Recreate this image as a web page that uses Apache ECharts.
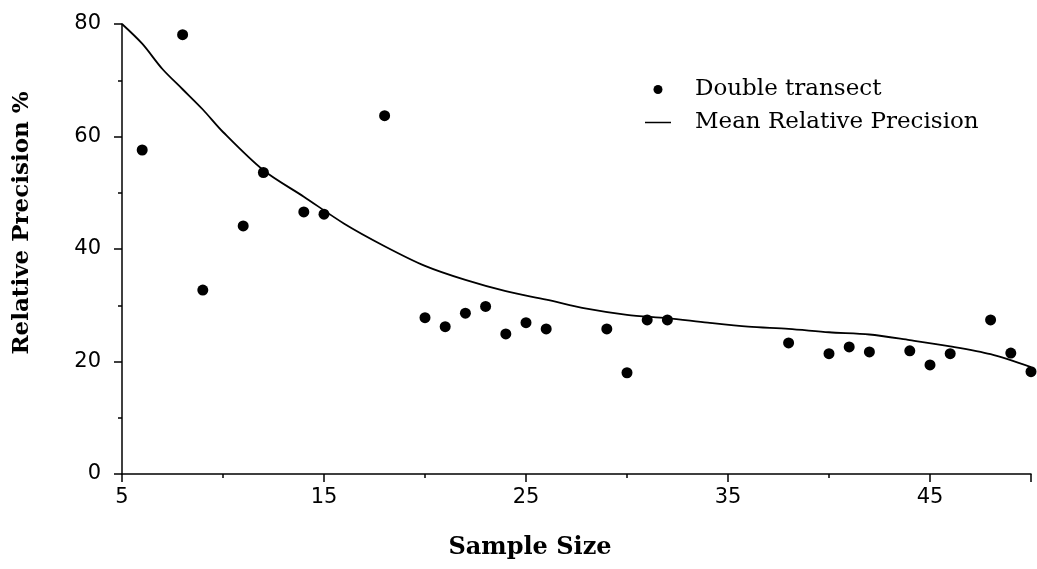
<!DOCTYPE html>
<html>
<head>
<meta charset="utf-8">
<script src="https://cdn.jsdelivr.net/npm/echarts@6/dist/echarts.min.js"></script>
<style>
html,body{margin:0;padding:0;background:#fff;}
#chart{width:1037px;height:569px;}
</style>
</head>
<body>
<div id="chart"></div>
<script>
// Scatter: Double transect (sample size, relative precision %)
var pointX = [6, 8, 9, 11, 12, 14, 15, 18, 20, 21, 22, 23, 24, 25, 26, 29, 30, 31, 32, 38, 40, 41, 42, 44, 45, 46, 48, 49, 50];
var pointY = [57.6, 78.1, 32.7, 44.1, 53.6, 46.6, 46.2, 63.7, 27.8, 26.2, 28.6, 29.8, 24.9, 26.9, 25.8, 25.8, 18.0, 27.4, 27.4, 23.3, 21.4, 22.6, 21.7, 21.9, 19.4, 21.4, 27.4, 21.5, 18.2];
// Line: Mean Relative Precision
var lineX = [5, 6, 7, 8, 9, 10, 12, 14, 16, 18, 20, 22, 24, 26, 28, 30, 32, 34, 36, 38, 40, 42, 44, 46, 48, 50];
var lineY = [80, 76.5, 72, 68.4, 64.8, 60.8, 54.0, 49.3, 44.5, 40.5, 37.0, 34.5, 32.5, 31.0, 29.4, 28.3, 27.7, 26.9, 26.2, 25.8, 25.2, 24.8, 23.8, 22.7, 21.3, 19.0];
var xTickLabels = ['5', '15', '25', '35', '45'];
var yTickLabels = ['0', '20', '40', '60', '80'];

var scatterData = pointX.map(function (x, i) { return [x, pointY[i]]; });
var lineData = lineX.map(function (x, i) { return [x, lineY[i]]; });

var chart = echarts.init(document.getElementById('chart'), null, {renderer: 'canvas'});
chart.setOption({
  animation: false,
  backgroundColor: '#ffffff',
  grid: {left: 122, right: 6, top: 24, bottom: 95, containLabel: false},
  legend: {
    orient: 'vertical',
    left: 640,
    top: 73,
    itemGap: 10,
    itemWidth: 26,
    itemHeight: 9,
    symbolKeepAspect: true,
    textStyle: {fontFamily: 'DejaVu Serif', fontSize: 23, color: '#000', padding: [0, 0, 0, 19]},
    data: [
      {name: 'Double transect', icon: 'circle'},
      {name: 'Mean Relative Precision', icon: 'path://M0,0 H26 V1.5 H0 Z'}
    ]
  },
  xAxis: {
    type: 'value',
    min: 5,
    max: 50,
    interval: 10,
    axisLine: {show: true, lineStyle: {color: '#000', width: 1.5}},
    axisTick: {show: true, inside: false, length: 8, lineStyle: {color: '#000', width: 1.5}},
    minorTick: {show: true, splitNumber: 2, length: 4, lineStyle: {color: '#000', width: 1.5}},
    splitLine: {show: false},
    axisLabel: {
      margin: 13,
      fontFamily: 'DejaVu Sans',
      fontSize: 21,
      color: '#000',
      formatter: function (v) { var i = xTickLabels.indexOf(String(v)); return i >= 0 ? xTickLabels[i] : ''; }
    }
  },
  yAxis: {
    type: 'value',
    min: 0,
    max: 80,
    interval: 20,
    axisLine: {show: true, lineStyle: {color: '#000', width: 1.5}},
    axisTick: {show: true, inside: false, length: 8, lineStyle: {color: '#000', width: 1.5}},
    minorTick: {show: true, splitNumber: 2, length: 4, lineStyle: {color: '#000', width: 1.5}},
    splitLine: {show: false},
    axisLabel: {
      margin: 21,
      fontFamily: 'DejaVu Sans',
      fontSize: 21,
      color: '#000',
      formatter: function (v) { var i = yTickLabels.indexOf(String(v)); return i >= 0 ? yTickLabels[i] : ''; }
    }
  },
  graphic: [
    {
      type: 'text',
      x: 22,
      y: 223,
      rotation: Math.PI / 2,
      style: {
        text: 'Relative Precision %',
        fontFamily: 'DejaVu Serif',
        fontWeight: 'bold',
        fontSize: 23,
        fill: '#000',
        align: 'center',
        verticalAlign: 'middle'
      }
    },
    {
      type: 'text',
      x: 530,
      y: 548,
      style: {
        text: 'Sample Size',
        fontFamily: 'DejaVu Serif',
        fontWeight: 'bold',
        fontSize: 24,
        fill: '#000',
        align: 'center',
        verticalAlign: 'middle'
      }
    }
  ],
  series: [
    {
      name: 'Double transect',
      type: 'scatter',
      data: scatterData,
      symbol: 'circle',
      symbolSize: 11,
      itemStyle: {color: '#000', opacity: 1},
      z: 3
    },
    {
      name: 'Mean Relative Precision',
      type: 'line',
      data: lineData,
      smooth: 0.3,
      symbol: 'none',
      lineStyle: {color: '#000', width: 1.8},
      itemStyle: {color: '#000'},
      z: 2
    }
  ]
});
</script>
</body>
</html>
